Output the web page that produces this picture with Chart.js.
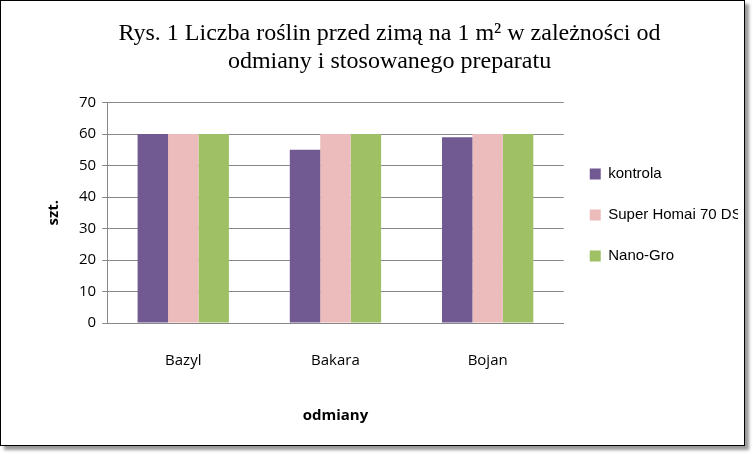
<!DOCTYPE html>
<html><head><meta charset="utf-8">
<script src="https://cdn.jsdelivr.net/npm/chart.js@4"></script>
<style>
html,body{margin:0;padding:0;background:#fff;}
#wrap{position:absolute;left:0;top:0;width:743px;height:444px;border:1px solid #000;box-shadow:4px 4px 3px #999;background:#fff;}
canvas{position:absolute;left:0;top:0;}
</style></head><body>
<div id="wrap"><canvas id="c" width="743" height="444"></canvas></div>
<script>
const categories=["Bazyl","Bakara","Bojan"];
const seriesNames=["kontrola","Super Homai 70 DS","Nano-Gro"];
const kontrola=[60,55,59];
const superHomai=[60,60,60];
const nanoGro=[60,60,60];
const colors=["#705a91","#ebbcbb","#9fc064"];
new Chart(document.getElementById('c'),{
 type:'bar',
 data:{labels:categories,datasets:[
  {label:seriesNames[0],data:kontrola,backgroundColor:colors[0]},
  {label:seriesNames[1],data:superHomai,backgroundColor:colors[1]},
  {label:seriesNames[2],data:nanoGro,backgroundColor:colors[2]}]},
 options:{responsive:false,animation:false,
  layout:{padding:{left:40,right:6,top:0,bottom:16}},
  datasets:{bar:{categoryPercentage:0.6,barPercentage:1}},
  plugins:{
   title:{display:true,text:["Rys. 1 Liczba roślin przed zimą na 1 m² w zależności od","odmiany i stosowanego preparatu"],
    font:{family:"Liberation Serif",size:24,weight:'normal'},color:'#000',padding:{top:18,bottom:26},lineHeight:1.25},
   legend:{position:'right',labels:{font:{family:"Liberation Sans",size:15},color:'#000',boxWidth:11,boxHeight:11,padding:26}},
   tooltip:{enabled:false}},
  scales:{
   x:{grid:{display:false,drawTicks:false},border:{color:'#888'},
    ticks:{font:{family:"Open Sans",size:15},color:'#000',padding:29},
    title:{display:true,text:"odmiany",font:{family:"Open Sans",size:15,weight:'bold'},color:'#000',padding:{top:8}}},
   y:{min:0,max:70,ticks:{stepSize:10,font:{family:"Open Sans",size:15},color:'#000',padding:6},
    grid:{color:'#888',tickLength:5},border:{color:'#888'},
    title:{display:true,text:"szt.",font:{family:"Open Sans",size:15,weight:'bold'},color:'#000',padding:{bottom:10}}}
  }}
});
</script></body></html>
